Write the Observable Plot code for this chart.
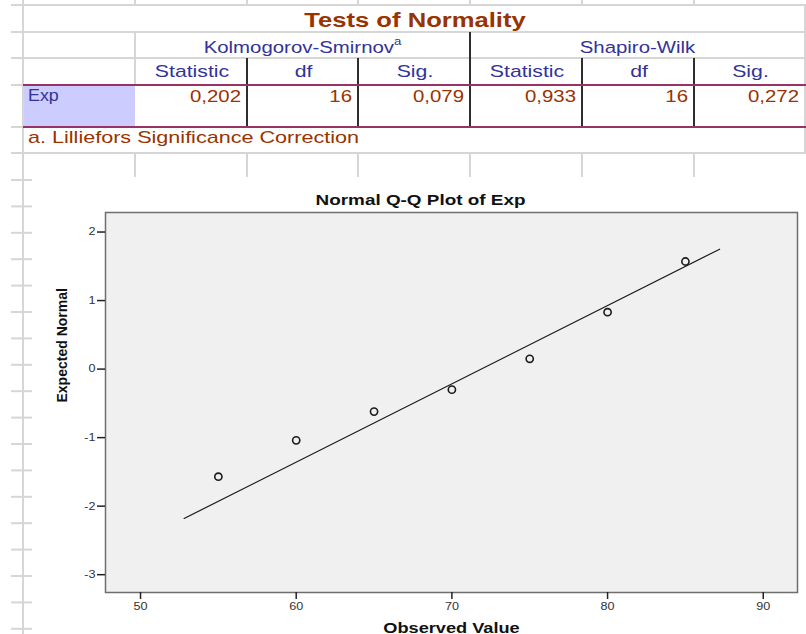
<!DOCTYPE html>
<html><head><meta charset="utf-8">
<script src="https://cdn.jsdelivr.net/npm/d3@7"></script>
<script src="https://cdn.jsdelivr.net/npm/@observablehq/plot@0.6"></script>
<style>
html,body{margin:0;padding:0;background:#fff;}
#wrap{position:relative;width:806px;height:634px;overflow:hidden;font-family:Arial,"Liberation Sans",sans-serif;}
#wrap svg{position:absolute;left:0;top:0;}
</style></head><body><div id="wrap"></div>
<script>
// ---- table content ----
const tableTitle = "Tests of Normality";
const testNames = ["Kolmogorov-Smirnov", "Shapiro-Wilk"];
const testSup = ["a", ""];
const statCols = ["Statistic", "df", "Sig."];
const rowLabel = "Exp";
const ksValues = ["0,202", "16", "0,079"];
const swValues = ["0,933", "16", "0,272"];
const footnote = "a. Lilliefors Significance Correction";

// ---- chart content ----
const chartTitle = "Normal Q-Q Plot of Exp";
const xLabel = "Observed Value";
const yLabel = "Expected Normal";
const observed = [55, 60, 65, 70, 75, 80, 85];
const expectedNormal = [-1.57, -1.04, -0.62, -0.30, 0.15, 0.83, 1.57];
const lineX = [52.8, 87.2];
const lineY = [-2.18, 1.75];
const xTicks = [50, 60, 70, 80, 90];
const yTicks = [-3, -2, -1, 0, 1, 2];

const FONT = "Arial, 'Liberation Sans', sans-serif";
const wrap = document.getElementById("wrap");

// horizontally widen a text element around its anchor, keeping em-based offsets
function stretch(el, s) {
  let x = 0, y = 0;
  const ax = el.getAttribute("x"), ay = el.getAttribute("y");
  if (ax != null && !/em$/.test(ax)) { x = +ax || 0; el.removeAttribute("x"); }
  if (ay != null && !/em$/.test(ay)) { y = +ay || 0; el.removeAttribute("y"); }
  const tr = el.getAttribute("transform") || "";
  el.setAttribute("transform", `${tr} translate(${x},${y}) scale(${s},1)`);
}

// ---- Plot chart ----
const pts = observed.map((x, i) => ({x, y: expectedNormal[i]}));
const fit = lineX.map((x, i) => ({x, y: lineY[i]}));
const tickLabels = new Set(xTicks.concat(yTicks).map(String));
const chart = Plot.plot({
  width: 806, height: 634,
  marginTop: 212, marginLeft: 105, marginRight: 9, marginBottom: 42,
  style: {background: "transparent", fontFamily: FONT, fontSize: "10.5px", color: "#333", overflow: "visible"},
  x: {domain: [47.75, 92.2]},
  y: {domain: [-3.26, 2.285]},
  marks: [
    Plot.frame({fill: "#f0f0f0", stroke: "#6e6e6e", strokeWidth: 1.5}),
    Plot.line(fit, {x: "x", y: "y", stroke: "#1a1a1a", strokeWidth: 1.2}),
    Plot.dot(pts, {x: "x", y: "y", r: 3.6, stroke: "#1a1a1a", strokeWidth: 1.6, fill: "none"}),
    Plot.axisX({ticks: xTicks, tickSize: 7, tickPadding: 3, label: null, stroke: "#222", strokeWidth: 1.5, tickFormat: d => String(d)}),
    Plot.axisY({ticks: yTicks, tickSize: 8, tickPadding: 2, label: null, stroke: "#222", strokeWidth: 1.5, tickFormat: d => String(d)}),
    Plot.text([chartTitle], {text: d => d, frameAnchor: "top", dx: -31, dy: -8, lineAnchor: "bottom", fontWeight: "bold", fontSize: 14, fill: "#111"}),
    Plot.text([xLabel], {text: d => d, frameAnchor: "bottom", dy: 40, lineAnchor: "bottom", fontWeight: "bold", fontSize: 14, fill: "#111"}),
    Plot.text([yLabel], {text: d => d, frameAnchor: "left", dx: -43, rotate: -90, fontWeight: "bold", fontSize: 14, fill: "#111"})
  ]
});
wrap.appendChild(chart);
d3.select(chart).selectAll("text").each(function() {
  const t = this.textContent;
  if (t === chartTitle) stretch(this, 1.35);
  else if (t === xLabel) stretch(this, 1.3);
  else if (tickLabels.has(t)) stretch(this, 1.2);
});

// ---- table overlay (SVG) ----
const svg = d3.select(wrap).append("svg").attr("width", 806).attr("height", 634);
const col = [23, 135, 247, 358, 470, 582, 694, 805];
const GREY = "#d6d6d6", DARK = "#2e2e2e", PURPLE = "#993366";
function ln(x1, y1, x2, y2, c, w = 2) {
  svg.append("line").attr("x1", x1).attr("y1", y1).attr("x2", x2).attr("y2", y2)
    .attr("stroke", c).attr("stroke-width", w);
}
// lavender label cell
svg.append("rect").attr("x", 23).attr("y", 85).attr("width", 112).attr("height", 42).attr("fill", "#ccccff");
// left ruler
ln(23, 0, 23, 634, GREY);
d3.range(180, 634, 26.4).forEach(y => ln(11, y, 32, y, GREY));
// top stubs
col.slice(1, 7).forEach(x => ln(x, 0, x, 5, GREY));
// horizontal grey rules
[5, 32, 58, 153].forEach(y => ln(11, y, 806, y, GREY));
[85, 127].forEach(y => ln(11, y, 23, y, GREY));
// right border
ln(805, 5, 805, 153, GREY);
// grey vertical at first column
ln(135, 32, 135, 85, GREY);
// dark separators
ln(470, 32, 470, 127, DARK);
[247, 358, 582, 694].forEach(x => ln(x, 58, x, 127, DARK));
// purple rules
[85, 127].forEach(y => ln(23, y, 806, y, PURPLE));
// bottom empty row verticals
col.slice(1, 7).forEach(x => ln(x, 153, x, 177, GREY));

function txt(s, x, y, opts = {}) {
  const sc = opts.scale || 1.25;
  const t = svg.append("text")
    .attr("transform", `translate(${x},${y}) scale(${sc},1)`)
    .text(s)
    .attr("font-family", FONT).attr("font-size", opts.size || 17)
    .attr("fill", opts.fill || "#333399")
    .attr("text-anchor", opts.anchor || "start")
    .attr("font-weight", opts.weight || "normal");
  return t;
}
txt(tableTitle, 415, 27, {size: 21, weight: "bold", fill: "#993300", anchor: "middle", scale: 1.22});
testNames.forEach((name, i) => {
  const cx = i === 0 ? (col[1] + col[4]) / 2 : (col[4] + col[7]) / 2;
  const t = txt(name, cx, 52.5, {anchor: "middle", scale: 1.2});
  if (testSup[i]) t.append("tspan").attr("font-size", 11).attr("dy", -8).text(testSup[i]);
});
[0, 1].forEach(g => statCols.forEach((s, j) => {
  const c = 1 + g * 3 + j;
  txt(s, (col[c] + col[c + 1]) / 2 + 1, 77, {anchor: "middle"});
}));
txt(rowLabel, 28, 101, {scale: 1.05});
ksValues.concat(swValues).forEach((v, k) => {
  const c = 1 + k;
  txt(v, col[c + 1] - 6, 102, {anchor: "end", fill: "#993300", scale: 1.2});
});
txt(footnote, 28, 143, {fill: "#993300", scale: 1.27});
</script></body></html>
